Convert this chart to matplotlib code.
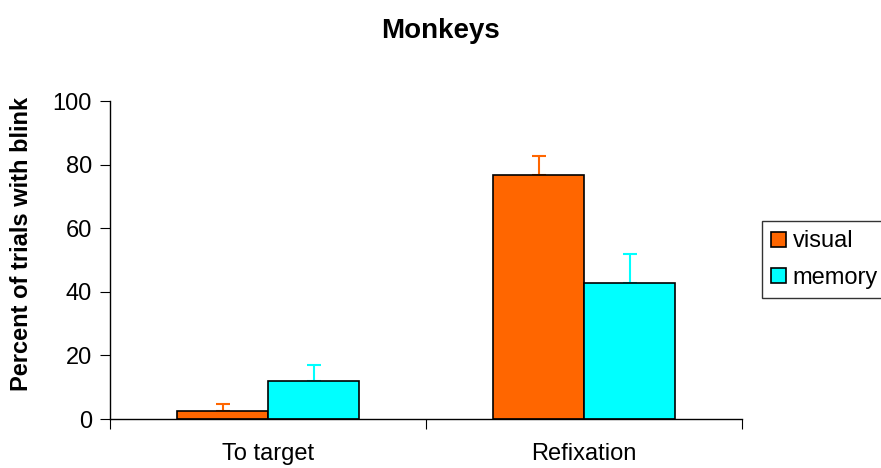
import numpy as np
import matplotlib.pyplot as plt

plt.rcParams['font.family'] = ['Liberation Sans', 'DejaVu Sans']

categories = ["To target", "Refixation"]
visual = [2.5, 76.7]
visual_err = [2.1, 6.0]
memory = [12.0, 42.8]
memory_err = [5.0, 9.1]

c_visual = "#FF6600"
c_memory = "#00FFFF"

fig = plt.figure(figsize=(8.81, 4.68), dpi=100)
ax = fig.add_axes([0.1249, 0.1047, 0.8425 - 0.1249, 0.784 - 0.1047])

x = np.arange(len(categories)) + 0.5
w = 0.288

ax.bar(x - w / 2, visual, w, color=c_visual, edgecolor="black", linewidth=1.2,
       label="visual", zorder=2)
ax.bar(x + w / 2, memory, w, color=c_memory, edgecolor="black", linewidth=1.2,
       label="memory", zorder=2)
ax.errorbar(x - w / 2, visual, yerr=[np.zeros(2), visual_err], fmt="none",
            ecolor=c_visual, elinewidth=1.5, capsize=5.3, capthick=1.5, zorder=1)
ax.errorbar(x + w / 2, memory, yerr=[np.zeros(2), memory_err], fmt="none",
            ecolor=c_memory, elinewidth=1.5, capsize=5.3, capthick=1.5, zorder=1)

ax.set_xlim(0, 2)
ax.set_ylim(0, 100)
ax.set_yticks([0, 20, 40, 60, 80, 100])
ax.set_xticks([0, 1, 2])
ax.set_xticklabels([])
ax.set_xticks(x, minor=True)
ax.set_xticklabels(categories, minor=True)
ax.tick_params(axis="x", which="major", length=7, direction="out", color="black")
ax.tick_params(axis="x", which="minor", length=0, pad=17, labelsize=17)
ax.tick_params(axis="y", length=7, direction="out", labelsize=17, pad=6)

for s in ["top", "right"]:
    ax.spines[s].set_visible(False)
ax.spines["left"].set_linewidth(1)
ax.spines["bottom"].set_linewidth(1)

ax.set_ylabel("Percent of trials with blink", fontsize=17, fontweight="bold")
ax.yaxis.set_label_coords(-0.122, 0.55)
fig.suptitle("Monkeys", fontsize=20, fontweight="bold", x=0.5, y=0.962)

leg = ax.legend(loc="upper left", bbox_to_anchor=(762 / 881, 1 - 221 / 468),
                bbox_transform=fig.transFigure, fontsize=17, frameon=True,
                fancybox=False, edgecolor="black", handlelength=0.6,
                handleheight=0.6, handletextpad=0.3, borderpad=0.4,
                labelspacing=0.6, borderaxespad=0)
leg.get_frame().set_linewidth(1)

fig.savefig("out.png", dpi=100)
